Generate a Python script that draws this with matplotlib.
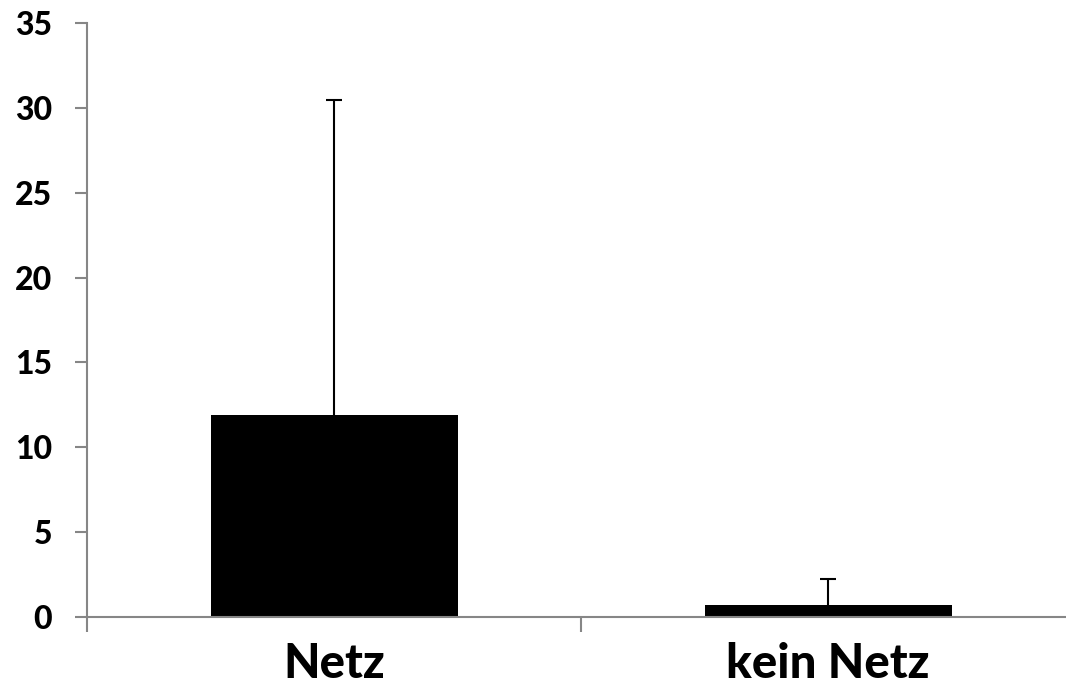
import matplotlib
matplotlib.use("Agg")
import matplotlib.pyplot as plt

categories = ["Netz", "kein Netz"]
means = [11.9, 0.7]
errors = [18.6, 1.5]
y_ticks = [0, 5, 10, 15, 20, 25, 30, 35]

plt.rcParams['font.family'] = ['Lato', 'DejaVu Sans']

W, H = 1066, 684
fig = plt.figure(figsize=(W / 100, H / 100), dpi=100)
ax = fig.add_axes([87 / W, 1 - 616.7 / H, (1075 - 87) / W, (616.7 - 23.3) / H])

x = list(range(len(categories)))
ax.bar(x, means, width=0.5, color="black", zorder=2)
_, caps, _ = ax.errorbar(x, means, yerr=[[0] * len(errors), errors], fmt="none",
                         ecolor="black", elinewidth=1.5, capsize=6, capthick=1.5,
                         zorder=3)
# only the upper cap is shown
caps[0].set_visible(False)

ax.set_xlim(-0.5, len(categories) - 0.5)
ax.set_ylim(0, 35)
ax.set_yticks(y_ticks)
ax.set_yticklabels([str(v) for v in y_ticks], fontsize=23, fontweight="black")

ax.set_xticks(x)
ax.set_xticklabels(categories, fontsize=34, fontweight="black")
ax.set_xticks([i - 0.5 for i in range(len(categories) + 1)], minor=True)
ax.tick_params(axis="x", which="major", length=0, pad=18)
ax.tick_params(axis="x", which="minor", length=11, width=1.5, color="#868686")
ax.tick_params(axis="y", which="major", length=9, width=1.5, color="#868686", pad=16)

for side in ("top", "right"):
    ax.spines[side].set_visible(False)
for side in ("left", "bottom"):
    ax.spines[side].set_color("#868686")
    ax.spines[side].set_linewidth(1.5)

fig.savefig("out.png", dpi=100)
